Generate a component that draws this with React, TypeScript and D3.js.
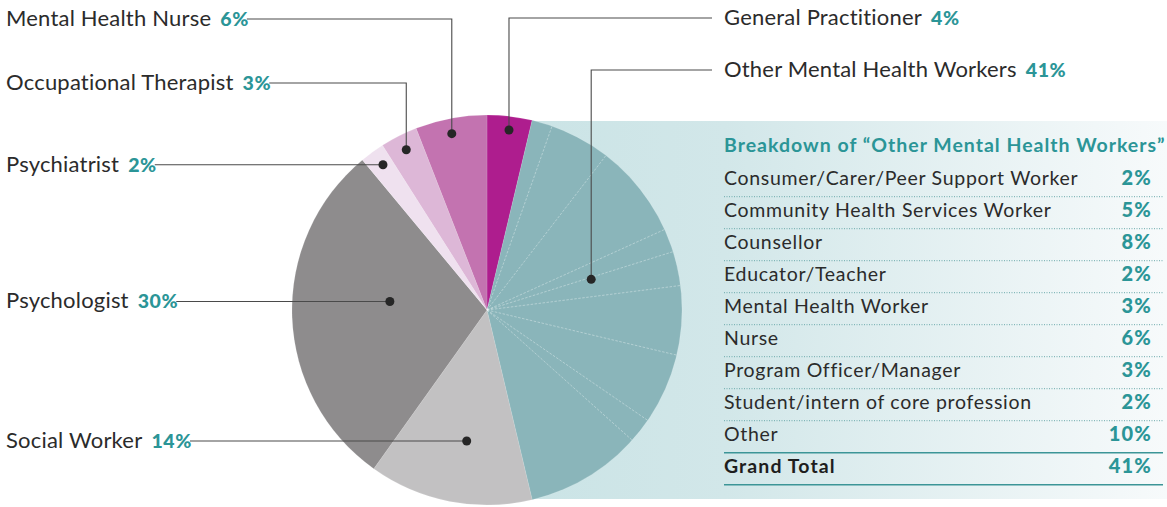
import React, { useEffect, useRef } from "react";
import * as d3 from "d3";

const W = 1167;
const H = 507;

// Main pie categories (clockwise from 12 o'clock)
const categories = [
  "General Practitioner",
  "Other Mental Health Workers",
  "Social Worker",
  "Psychologist",
  "Psychiatrist",
  "Occupational Therapist",
  "Mental Health Nurse",
];
// slice sizes (%), and the printed (rounded) labels
const shares = [3.72, 42.56, 13.58, 29.11, 2.03, 3.08, 5.92];
const shareLabels = [4, 41, 14, 30, 2, 3, 6];
const sliceColors = ["#ae1d8e", "#8ab5ba", "#c2c1c2", "#8e8c8d", "#efe1ef", "#ddb7d7", "#c373b0"];

// Breakdown of "Other Mental Health Workers"
const breakdownLabels = [
  "Consumer/Carer/Peer Support Worker",
  "Community Health Services Worker",
  "Counsellor",
  "Educator/Teacher",
  "Mental Health Worker",
  "Nurse",
  "Program Officer/Manager",
  "Student/intern of core profession",
  "Other",
];
const breakdownValues = [2, 5, 8, 2, 3, 6, 3, 2, 10];
// sub-slice sizes inside the teal slice (%)
const breakdownSliceShares = [1.69, 5.03, 7.78, 1.94, 2.83, 5.72, 5.86, 2.06, 9.64];
const grandTotalLabel = "Grand Total";
const grandTotalValue = 41;
const tableTitle = "Breakdown of \u201cOther Mental Health Workers\u201d";

// Label layout: side, leader row y, dot radius fraction, angle fraction in slice
const labelSide = ["right", "right", "left", "left", "left", "left", "left"];
const labelRowY = [18, 70, null, null, null, 83, 19];
const dotRadiusFrac = [0.93, 0.557, 0.68, 0.5, 0.916, 0.92, 0.922];
const dotAngleFrac = [0.52, 0.393, 0.454, 0.568, 0.56, 0.51, 0.47];

const TEAL = "#2b9597";
const TEXT = "#2b2b2b";
const FONT = "Lato, 'Open Sans', sans-serif";

export default function App() {
  const ref = useRef<SVGSVGElement | null>(null);

  useEffect(() => {
    const svg = d3.select(ref.current);
    svg.selectAll("*").remove();

    const cx = 487;
    const cy = 310;
    const R = 195;

    // gradient panel
    const defs = svg.append("defs");
    const grad = defs
      .append("linearGradient")
      .attr("id", "panelGrad")
      .attr("x1", "0")
      .attr("x2", "1")
      .attr("y1", "0")
      .attr("y2", "0");
    grad.append("stop").attr("offset", "0").attr("stop-color", "#c9e3e5");
    grad.append("stop").attr("offset", "0.35").attr("stop-color", "#d2e7e9");
    grad.append("stop").attr("offset", "1").attr("stop-color", "#f7fafb");

    svg
      .append("rect")
      .attr("x", cx)
      .attr("y", 121)
      .attr("width", W - cx)
      .attr("height", 378)
      .attr("fill", "url(#panelGrad)");

    const pie = d3
      .pie<number>()
      .sort(null)
      .value((d) => d)
      .startAngle(0)
      .endAngle(2 * Math.PI);
    const arcs = pie(shares);
    const arcGen = d3.arc<d3.PieArcDatum<number>>().innerRadius(0).outerRadius(R);

    const g = svg.append("g").attr("transform", `translate(${cx},${cy})`);
    g.selectAll("path.slice")
      .data(arcs)
      .enter()
      .append("path")
      .attr("class", "slice")
      .attr("d", arcGen as any)
      .attr("fill", (_d, i) => sliceColors[i])
      .attr("stroke", "rgba(255,255,255,0.25)")
      .attr("stroke-width", 0.5);

    // breakdown separators inside the teal slice
    const teal = arcs[1];
    const subPie = d3
      .pie<number>()
      .sort(null)
      .value((d) => d)
      .startAngle(teal.startAngle)
      .endAngle(teal.endAngle);
    const subArcs = subPie(breakdownSliceShares);
    g.selectAll("line.sep")
      .data(subArcs.slice(0, subArcs.length - 1))
      .enter()
      .append("line")
      .attr("class", "sep")
      .attr("x1", 0)
      .attr("y1", 0)
      .attr("x2", (d) => R * Math.sin(d.endAngle))
      .attr("y2", (d) => -R * Math.cos(d.endAngle))
      .attr("stroke", "rgba(255,255,255,0.5)")
      .attr("stroke-width", 0.7)
      .attr("stroke-dasharray", "2.5,1.5");

    // leader lines + labels
    const labelsG = svg.append("g");
    arcs.forEach((a, i) => {
      const ang = a.startAngle + (a.endAngle - a.startAngle) * dotAngleFrac[i];
      const r = R * dotRadiusFrac[i];
      const dx = cx + r * Math.sin(ang);
      const dy = cy - r * Math.cos(ang);
      const rowY = labelRowY[i] == null ? dy : (labelRowY[i] as number);

      const text = labelsG
        .append("text")
        .attr("y", rowY + 7)
        .attr("font-family", FONT)
        .attr("font-size", 22)
        .attr("letter-spacing", 0.2)
        .attr("fill", TEXT);
      text.append("tspan").text(categories[i]);
      text
        .append("tspan")
        .attr("dx", 9)
        .attr("font-size", 19.5)
        .attr("font-weight", 900)
        .attr("letter-spacing", 0.6)
        .attr("fill", TEAL)
        .text(shareLabels[i] + "%");

      let pts: [number, number][];
      if (labelSide[i] === "left") {
        text.attr("x", 6);
        const tw = (text.node() as SVGTextElement).getComputedTextLength();
        const sx = 6 + tw + 7;
        pts = [
          [sx, rowY],
          [dx, rowY],
          [dx, dy],
        ];
      } else {
        text.attr("x", 724);
        pts = [
          [712, rowY],
          [dx, rowY],
          [dx, dy],
        ];
      }
      labelsG
        .append("path")
        .attr("d", d3.line()(pts) as string)
        .attr("fill", "none")
        .attr("stroke", "#4a4a4a")
        .attr("stroke-width", 1.1);
      labelsG
        .append("circle")
        .attr("cx", dx)
        .attr("cy", dy)
        .attr("r", 4.5)
        .attr("fill", "#262626");
    });

    // table
    const tx = 724;
    const tRight = 1163;
    const pctX = 1152;
    const rowTop = 164.7;
    const rowH = 32;
    const tg = svg.append("g");
    tg.append("text")
      .attr("x", tx)
      .attr("y", 151.5)
      .attr("font-family", FONT)
      .attr("font-size", 19.5)
      .attr("font-weight", 700)
      .attr("letter-spacing", 1.0)
      .attr("fill", TEAL)
      .text(tableTitle);

    const rowsY = d3.range(breakdownLabels.length + 1).map((k) => rowTop + k * rowH);
    const allLabels = [...breakdownLabels, grandTotalLabel];
    const allValues = [...breakdownValues, grandTotalValue];

    allLabels.forEach((lab, k) => {
      const lineY = rowsY[k] + rowH;
      const isTotal = k === allLabels.length - 1;
      tg.append("text")
        .attr("x", tx)
        .attr("y", lineY - 11.5)
        .attr("font-family", FONT)
        .attr("font-size", 19.5)
        .attr("font-weight", isTotal ? 700 : 400)
        .attr("letter-spacing", isTotal ? 1.1 : 0.7)
        .attr("fill", isTotal ? "#1e1e1e" : TEXT)
        .text(lab);
      tg.append("text")
        .attr("x", pctX)
        .attr("y", lineY - 11.5)
        .attr("text-anchor", "end")
        .attr("font-family", FONT)
        .attr("font-size", 20)
        .attr("font-weight", 900)
        .attr("letter-spacing", 1.2)
        .attr("fill", TEAL)
        .text(allValues[k] + "%");
      const solid = k >= allLabels.length - 2;
      tg.append("line")
        .attr("x1", tx)
        .attr("x2", tRight)
        .attr("y1", lineY)
        .attr("y2", lineY)
        .attr("stroke", solid ? "#3c9597" : "#6aa9ab")
        .attr("stroke-width", solid ? 1.5 : 1)
        .attr("stroke-dasharray", solid ? null : "1,1.5");
    });
  }, []);

  return (
    <svg
      ref={ref}
      width={W}
      height={H}
      style={{ position: "absolute", left: 0, top: 0, background: "#fff" }}
    />
  );
}
